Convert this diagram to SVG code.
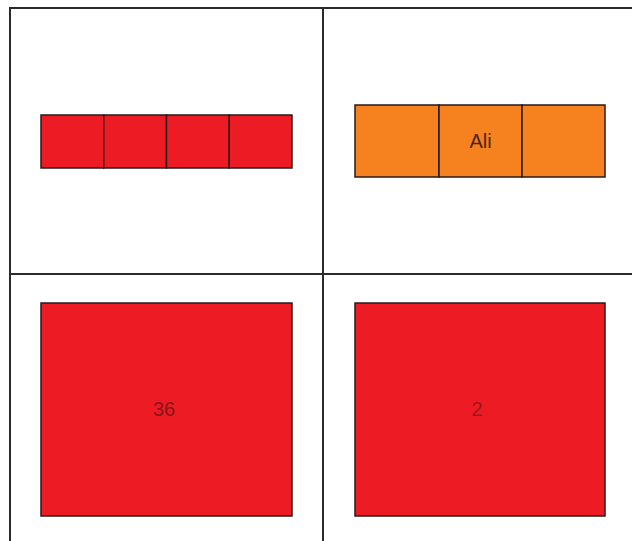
<svg xmlns="http://www.w3.org/2000/svg" width="632" height="541" viewBox="0 0 632 541">
<style>
.grid{stroke:#2a2a2a;stroke-width:2;fill:none}
.cell{stroke:#2a1a1a;stroke-width:1.5}
.red{fill:#ED1C24}
.orange{fill:#F5821F}
.lbl{font-family:"Liberation Sans",Arial,sans-serif;font-size:20px;text-anchor:middle}
</style>
<rect width="632" height="541" fill="#ffffff"/>
<g id="grid">
<path class="grid" d="M10,541 V8 H632 M323,8 V541 M10,274 H632"/>
</g>
<g id="strip-red">
<rect class="cell red" x="41" y="115" width="62.75" height="53"/>
<rect class="cell red" x="103.75" y="115" width="62.75" height="53"/>
<rect class="cell red" x="166.5" y="115" width="62.75" height="53"/>
<rect class="cell red" x="229.25" y="115" width="62.75" height="53"/>
</g>
<g id="strip-orange">
<rect class="cell orange" x="355" y="105" width="84" height="72"/>
<rect class="cell orange" x="439" y="105" width="83" height="72"/>
<rect class="cell orange" x="522" y="105" width="83" height="72"/>
<text class="lbl" x="480.5" y="148" fill="#4a2418">Ali</text>
</g>
<g id="square-36">
<rect class="cell red" x="41" y="303" width="251" height="213"/>
<text class="lbl" x="164" y="416" fill="#8a1418">36</text>
</g>
<g id="square-2">
<rect class="cell red" x="355" y="303" width="250" height="213"/>
<text class="lbl" x="477" y="416" fill="#a0151b">2</text>
</g>
</svg>
